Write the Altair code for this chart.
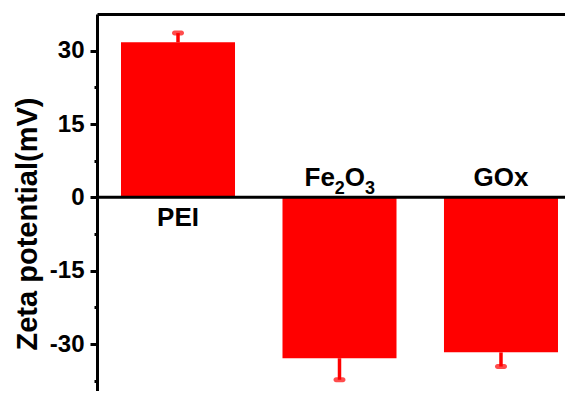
import altair as alt
import pandas as pd

cats = ["PEI", "Fe₂O₃", "GOx"]
values = [31.7, -32.9, -31.7]
errors = [1.9, 4.4, 2.9]
major_ticks = [-30, -15, 0, 15, 30]
minor_ticks = [-37.5, -22.5, -7.5, 7.5, 22.5]
y_domain = [-39.6, 37.5]

# pieces of the Fe2O3 label (chemical formula with subscripts)
fe_pieces = ["Fe", "2", "O", "3"]

df = pd.DataFrame({"cat": cats, "value": values, "err": errors})
df["end"] = [v + (e if v >= 0 else -e) for v, e in zip(values, errors)]
df["pos"] = [v >= 0 for v in values]

FONT = "Liberation Sans"
RED = "#ff0000"

xscale = alt.Scale(domain=cats, paddingInner=0.294, paddingOuter=0.096, align=0.774)
yscale = alt.Scale(domain=y_domain, nice=False, zero=False)
X = alt.X("cat:N", scale=xscale, sort=cats)

base = alt.Chart(df)

bars = base.mark_bar(color=RED).encode(
    x=alt.X("cat:N", scale=xscale, sort=cats,
            axis=alt.Axis(orient="top", labels=False, ticks=False, title=None,
                          domainWidth=3, domainColor="black")),
    y=alt.Y("value:Q", scale=yscale,
            axis=alt.Axis(values=major_ticks + minor_ticks,
                          labelExpr="datum.value % 15 == 0 ? toString(datum.value) : ''",
                          tickSize={"condition": {"test": "datum.value % 15 == 0", "value": 7}, "value": 3},
                          tickWidth=3, tickColor="black",
                          domainWidth=3, domainColor="black",
                          labelFont=FONT, labelFontSize=24, labelFontWeight="bold",
                          labelColor="black", labelPadding=6,
                          title="Zeta potential(mV)", titleFont=FONT, titleFontSize=29,
                          titleFontWeight="bold", titleColor="black",
                          titleX=-55, titleY=209.5, titleBaseline="bottom", titleAngle=270,
                          grid=False)),
)

stems = base.mark_rule(color=RED, strokeWidth=3.5).encode(
    x=X, y=alt.Y("value:Q", scale=yscale), y2="end:Q",
)

caps = base.mark_tick(color=RED, thickness=5, size=12, cornerRadius=2.5).encode(
    x=X, y=alt.Y("end:Q", scale=yscale),
)

zero = alt.Chart(pd.DataFrame({"z": [0]})).mark_rule(color="black", strokeWidth=3).encode(
    y=alt.Y("z:Q", scale=yscale)
)

txt = dict(font=FONT, fontWeight="bold", color="black")

lab_pos = base.transform_filter("datum.pos").mark_text(
    fontSize=26, baseline="top", dy=8, **txt
).encode(x=X, y=alt.datum(0), text="cat:N")

lab_gox = base.transform_filter(alt.datum.cat == cats[2]).mark_text(
    fontSize=26, baseline="alphabetic", dy=-11, **txt
).encode(x=X, y=alt.datum(0), text="cat:N")

fe_base = base.transform_filter(alt.datum.cat == cats[1])
fe_layers = []
for piece, dx, size, dy in zip(fe_pieces, [-35, -4.7, 5.3, 25.5], [26, 18, 26, 18], [-11, -3, -11, -3]):
    fe_layers.append(
        fe_base.mark_text(fontSize=size, baseline="alphabetic", align="left", dx=dx, dy=dy,
                          text=piece, **txt).encode(x=X, y=alt.datum(0))
    )

chart = alt.layer(bars, stems, caps, zero, lab_pos, lab_gox, *fe_layers).properties(
    width=468, height=377,
    autosize=alt.AutoSizeParams(type="none"),
    padding={"left": 89, "top": 6, "right": 0, "bottom": 0},
).configure_view(stroke=None).configure(background="white")

chart.save("out.html", embed_options={"renderer": "svg", "actions": False})
